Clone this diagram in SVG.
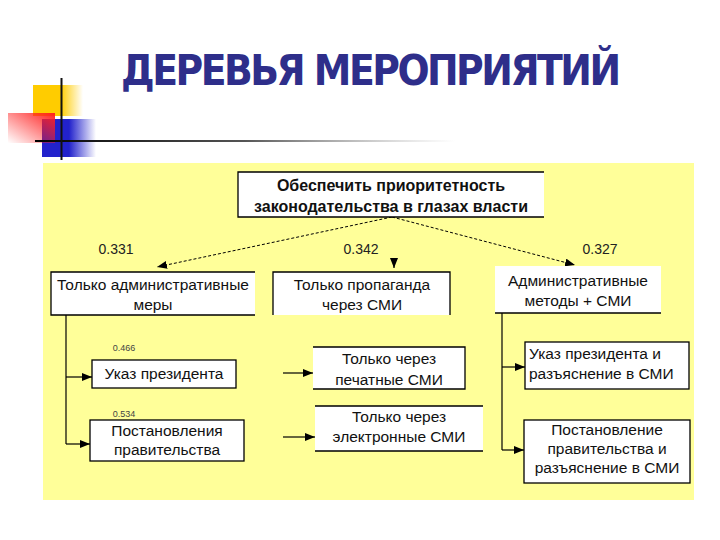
<svg xmlns="http://www.w3.org/2000/svg" width="720" height="540" viewBox="0 0 720 540">
<defs>
<style>
.t{font-family:"Liberation Sans",Arial,sans-serif;font-size:15.5px;fill:#111;text-anchor:middle}
.b{font-weight:bold;font-size:16px}
.n{font-family:"Liberation Sans",Arial,sans-serif;font-size:14px;fill:#222;text-anchor:middle}
.s{font-family:"Liberation Sans",Arial,sans-serif;font-size:9px;fill:#444;text-anchor:middle}
.box{fill:#fff;stroke:none}
.bd{fill:none;stroke:#000;stroke-width:1.3}
.c{fill:none;stroke:#000;stroke-width:1.2}
.d{fill:none;stroke:#000;stroke-width:1;stroke-dasharray:3 2}
</style>
<marker id="ah" viewBox="0 0 10 8" refX="10" refY="4" markerWidth="10" markerHeight="8" markerUnits="userSpaceOnUse" orient="auto">
<path d="M0,0 L10,4 L0,8 Z" fill="#000"/>
</marker>
<linearGradient id="gy" x1="0" y1="0" x2="1" y2="0"><stop offset="0" stop-color="#FFCC00"/><stop offset="0.55" stop-color="#FFCC00"/><stop offset="1" stop-color="#FFCC00" stop-opacity="0"/></linearGradient>
<linearGradient id="gr" x1="1" y1="0" x2="0" y2="1"><stop offset="0" stop-color="#FF2020"/><stop offset="1" stop-color="#FF2020" stop-opacity="0"/></linearGradient>
<linearGradient id="gb" x1="0" y1="0" x2="1" y2="0"><stop offset="0" stop-color="#2222CC"/><stop offset="0.5" stop-color="#2222CC"/><stop offset="1" stop-color="#2222CC" stop-opacity="0"/></linearGradient>
<linearGradient id="gl" x1="0" y1="0" x2="1" y2="0"><stop offset="0" stop-color="#000"/><stop offset="0.5" stop-color="#555"/><stop offset="1" stop-color="#999" stop-opacity="0"/></linearGradient>
</defs>
<rect width="720" height="540" fill="#fff"/>
<g id="decor">
<rect x="33" y="85" width="50" height="31" fill="url(#gy)"/>
<rect x="42" y="119" width="54" height="38" fill="url(#gb)"/>
<rect x="8" y="113" width="47" height="30" fill="url(#gr)"/>
<rect x="35" y="140" width="420" height="2" fill="url(#gl)"/>
<rect x="60.5" y="78" width="2" height="82" fill="#111"/>
</g>
<text x="371" y="85" font-family="DejaVu Sans Condensed,DejaVu Sans,sans-serif" font-weight="bold" font-size="42" fill="#2E2E8A" text-anchor="middle" textLength="500" lengthAdjust="spacing">ДЕРЕВЬЯ МЕРОПРИЯТИЙ</text>
<rect id="panel" x="43" y="163" width="651" height="337" fill="#FFFF99"/>
<g id="connectors">
<path class="d" d="M392,217 L157,267" marker-end="url(#ah)"/>
<path class="d" d="M392,217 L575,265" marker-end="url(#ah)"/>
<path class="c" d="M394,262 L394,268" marker-end="url(#ah)"/>
<path class="c" d="M66,315 V444"/>
<path class="c" d="M66,377 H92" marker-end="url(#ah)"/>
<path class="c" d="M66,444 H90" marker-end="url(#ah)"/>
<path class="c" d="M283,373 H313" marker-end="url(#ah)"/>
<path class="c" d="M283,437 H315" marker-end="url(#ah)"/>
<path class="c" d="M502,313 V450"/>
<path class="c" d="M502,367 H525" marker-end="url(#ah)"/>
<path class="c" d="M502,450 H524" marker-end="url(#ah)"/>
</g>
<g id="root">
<rect class="box" x="238" y="172" width="306" height="45"/>
<path class="bd" d="M544,172 H238 V217 H544"/>
<text class="t b" x="391" y="191">Обеспечить приоритетность</text>
<text class="t b" x="391" y="212">законодательства в глазах власти</text>
</g>
<g id="w1"><text class="n" x="116" y="254">0.331</text></g>
<g id="w2"><text class="n" x="361" y="254">0.342</text></g>
<g id="w3"><text class="n" x="600" y="254">0.327</text></g>
<g id="nodeA">
<rect class="box" x="51" y="272" width="204" height="43"/>
<path class="bd" d="M255,272 H51 V315 H255"/>
<text class="t" x="153" y="290">Только административные</text>
<text class="t" x="153" y="310">меры</text>
</g>
<g id="nodeB">
<rect class="box" x="273" y="272" width="177" height="43"/>
<path class="bd" d="M273,315 V272 H450 V315"/>
<text class="t" x="362" y="290">Только пропаганда</text>
<text class="t" x="362" y="310">через СМИ</text>
</g>
<g id="nodeC">
<rect class="box" x="495" y="266" width="166" height="47"/>
<path class="bd" d="M495,313 H661"/>
<text class="t" x="578" y="286">Административные</text>
<text class="t" x="578" y="306">методы + СМИ</text>
</g>
<g id="wA1"><text class="s" x="124" y="351">0.466</text></g>
<g id="wA2"><text class="s" x="124" y="417">0.534</text></g>
<g id="nodeA1">
<rect class="box bd" x="92" y="360" width="144" height="28" style="fill:#fff"/>
<text class="t" x="164" y="379">Указ президента</text>
</g>
<g id="nodeA2">
<rect class="box bd" x="90" y="420" width="154" height="41" style="fill:#fff"/>
<text class="t" x="167" y="436">Постановления</text>
<text class="t" x="167" y="455">правительства</text>
</g>
<g id="nodeB1">
<rect class="box" x="313" y="347" width="152" height="42"/>
<path class="bd" d="M313,347 H465 V389 H313"/>
<text class="t" x="389" y="364">Только через</text>
<text class="t" x="389" y="385">печатные СМИ</text>
</g>
<g id="nodeB2">
<rect class="box" x="315" y="406" width="168" height="45"/>
<path class="bd" d="M315,406 H483 M315,451 H483"/>
<text class="t" x="399" y="422">Только через</text>
<text class="t" x="399" y="442">электронные СМИ</text>
</g>
<g id="nodeC1">
<rect class="box bd" x="525" y="342" width="164" height="47" style="fill:#fff"/>
<text class="t" x="529" y="359" style="text-anchor:start">Указ президента и</text>
<text class="t" x="529" y="379" style="text-anchor:start">разъяснение в СМИ</text>
</g>
<g id="nodeC2">
<rect class="box bd" x="524" y="420" width="166" height="63" style="fill:#fff"/>
<text class="t" x="607" y="435">Постановление</text>
<text class="t" x="607" y="454">правительства и</text>
<text class="t" x="607" y="473">разъяснение в СМИ</text>
</g>
</svg>
